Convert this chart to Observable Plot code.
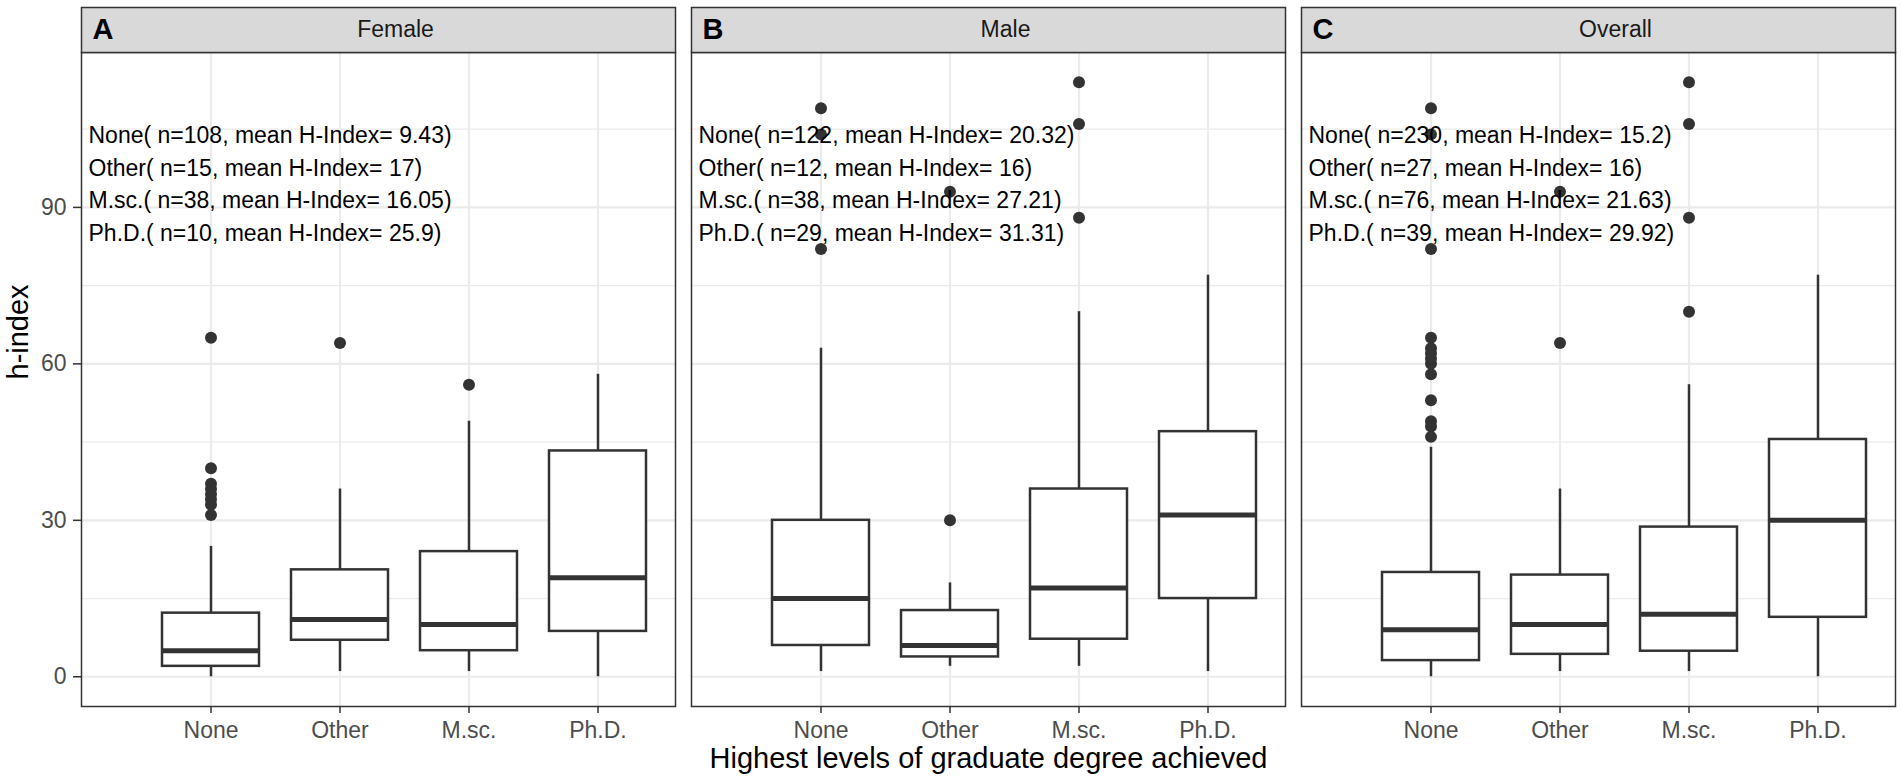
<!DOCTYPE html>
<html>
<head>
<meta charset="utf-8">
<script src="https://cdn.jsdelivr.net/npm/d3@7"></script>
<script src="https://cdn.jsdelivr.net/npm/@observablehq/plot@0.6"></script>
<style>
  html, body { margin: 0; padding: 0; background: white; }
  #chart { width: 1902px; height: 781px; }
</style>
</head>
<body>
<div id="chart"></div>
<script>
// ---- data ----
const panels = ["Female", "Male", "Overall"];
const tags = ["A", "B", "C"];
const degrees = ["None", "Other", "M.sc.", "Ph.D."];

// box statistics per panel (rows) and degree (columns)
const whiskerLow = [[0, 1, 1, 0], [1, 2, 2, 1], [0, 1, 1, 0]];
const q1 = [[2, 7, 5, 8.7], [6, 3.8, 7.2, 15], [3.1, 4.3, 4.9, 11.4]];
const median = [[5, 11, 10, 19], [15, 6, 17, 31], [9, 10, 12, 30]];
const q3 = [[12.2, 20.5, 24, 43.3], [30, 12.7, 36, 47], [20, 19.5, 28.7, 45.5]];
const whiskerHigh = [[25, 36, 49, 58], [63, 18, 70, 77], [44, 36, 56, 77]];

// outliers per degree
const outliersFemale = [[31, 33, 34, 35, 36, 37, 40, 65], [64], [56], []];
const outliersMale = [[82, 104, 109], [30, 93], [88, 106, 114], []];
const outliersOverall = [[46, 48, 49, 53, 58, 60, 61, 62, 63, 65, 82, 104, 109], [64, 93], [70, 88, 106, 114], []];

// annotation values
const counts = [[108, 15, 38, 10], [122, 12, 38, 29], [230, 27, 76, 39]];
const means = [["9.43", "17", "16.05", "25.9"], ["20.32", "16", "27.21", "31.31"], ["15.2", "16", "21.63", "29.92"]];
const annotY = [103.75, 97.5, 91.25, 85];

const yTicks = [0, 30, 60, 90];
const yMinor = [15, 45, 75, 105];
const yDomain = [-5.7, 119.7];

// ---- tables for the marks ----
const boxes = [];
panels.forEach((p, i) => degrees.forEach((d, j) => boxes.push({
  panel: p, deg: d, lo: whiskerLow[i][j], q1: q1[i][j], med: median[i][j], q3: q3[i][j], hi: whiskerHigh[i][j]
})));
const outs = [];
[outliersFemale, outliersMale, outliersOverall].forEach((arr, i) =>
  arr.forEach((vals, j) => vals.forEach(v => outs.push({panel: panels[i], deg: degrees[j], y: v}))));
const annots = [];
panels.forEach((p, i) => degrees.forEach((d, j) => annots.push({
  panel: p, y: annotY[j], label: `${d}( n=${counts[i][j]}, mean H-Index= ${means[i][j]})`
})));
const strips = panels.map((p, i) => ({panel: p, tag: tags[i]}));

const font = "'Liberation Sans', Arial, Helvetica, sans-serif";
const dark = "#333333";

const chart = Plot.plot({
  width: 1902,
  height: 781,
  marginLeft: 80,
  marginRight: 7,
  marginTop: 52,
  marginBottom: 75,
  style: {fontFamily: font, background: "white"},
  fx: {domain: panels, paddingInner: 16 / 610, paddingOuter: 0, axis: null, label: null},
  x: {domain: degrees, paddingInner: 0.25, paddingOuter: 0.425, align: 0.735, label: null},
  y: {domain: yDomain, label: null},
  marks: [
    Plot.ruleY(yMinor, {stroke: "#EBEBEB", strokeWidth: 1.2}),
    Plot.ruleY(yTicks, {stroke: "#EBEBEB", strokeWidth: 2.2}),
    Plot.ruleX(degrees, {x: d => d, stroke: "#EBEBEB", strokeWidth: 2.2}),
    Plot.ruleX(boxes, {fx: "panel", x: "deg", y1: "lo", y2: "q1", stroke: dark, strokeWidth: 2.5}),
    Plot.ruleX(boxes, {fx: "panel", x: "deg", y1: "q3", y2: "hi", stroke: dark, strokeWidth: 2.5}),
    Plot.barY(boxes, {fx: "panel", x: "deg", y1: "q1", y2: "q3", fill: "white", stroke: dark, strokeWidth: 2.5}),
    Plot.tickY(boxes, {fx: "panel", x: "deg", y: "med", stroke: dark, strokeWidth: 5}),
    Plot.dot(outs, {fx: "panel", x: "deg", y: "y", r: 6, fill: dark, stroke: null}),
    Plot.text(annots, {fx: "panel", y: "y", text: "label", frameAnchor: "left", dx: 7, textAnchor: "start", lineAnchor: "middle", fontSize: 23, fill: "black"}),
    Plot.axisX({tickSize: 7, tickPadding: 8, fontSize: 23, fill: "#4D4D4D", stroke: dark, strokeWidth: 1.5, label: null}),
    Plot.axisY({ticks: yTicks, tickSize: 8, tickPadding: 7, fontSize: 23, fill: "#4D4D4D", stroke: dark, strokeWidth: 1.5, label: null}),
    Plot.frame({stroke: dark, strokeWidth: 1.5}),
    Plot.frame({fill: "#D9D9D9", stroke: dark, strokeWidth: 1.5, insetTop: -45, insetBottom: 654}),
    Plot.text(strips, {fx: "panel", text: "panel", frameAnchor: "top", lineAnchor: "middle", dy: -22.5, dx: 17, fontSize: 23, fill: "#1A1A1A"}),
    Plot.text(strips, {fx: "panel", text: "tag", frameAnchor: "top-left", lineAnchor: "middle", dx: 11, dy: -22.5, textAnchor: "start", fontSize: 29, fontWeight: "bold", fill: "black"}),
    Plot.text([{panel: panels[0], t: "h-index"}], {fx: "panel", text: "t", frameAnchor: "left", lineAnchor: "middle", dx: -63, rotate: -90, fontSize: 29, fill: "black"}),
    Plot.text([{panel: panels[1], t: "Highest levels of graduate degree achieved"}], {fx: "panel", text: "t", frameAnchor: "bottom", lineAnchor: "middle", dy: 52, fontSize: 29, fill: "black"})
  ]
});
document.getElementById("chart").appendChild(chart);
</script>
</body>
</html>
